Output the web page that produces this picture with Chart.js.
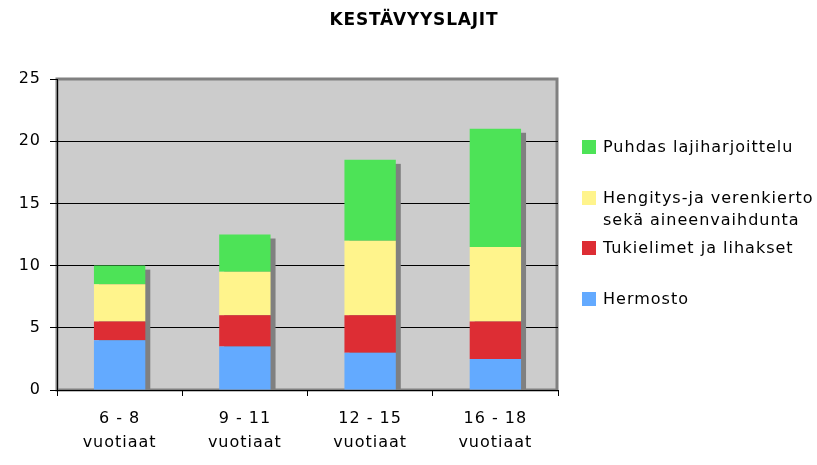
<!DOCTYPE html>
<html>
<head>
<meta charset="utf-8">
<script src="https://cdn.jsdelivr.net/npm/chart.js@4"></script>
<style>
  body { margin: 0; background: #fff; }
  #wrap { position: relative; width: 817px; height: 465px; }
  #legend { position: absolute; left: 0; top: 0; font-family: "DejaVu Sans"; font-size: 16px; letter-spacing: 1px; line-height: 22px; color: #000; }
  .item { position: absolute; left: 582px; }
  .box { position: absolute; left: 0; top: 4px; width: 14px; height: 14px; }
  .txt { position: absolute; left: 21px; top: 0; white-space: nowrap; }
</style>
</head>
<body>
<div id="wrap">
  <canvas id="chart" width="817" height="465"></canvas>
  <div id="legend"></div>
</div>
<script>
const chartTitle = "KESTÄVYYSLAJIT";
const categories = [["6 - 8", "vuotiaat"], ["9 - 11", "vuotiaat"], ["12 - 15", "vuotiaat"], ["16 - 18", "vuotiaat"]];
const seriesNames = [["Hermosto"], ["Tukielimet ja lihakset"], ["Hengitys-ja verenkierto", "sekä aineenvaihdunta"], ["Puhdas lajiharjoittelu"]];
const hermosto = [4, 3.5, 3, 2.5];
const tukielimet = [1.5, 2.5, 3, 3];
const hengitys = [3, 3.5, 6, 6];
const puhdas = [1.5, 3, 6.5, 9.5];
const seriesColors = ["#63aaff", "#dd2d34", "#fff48c", "#4de357"];
const yMax = 25;
const yStep = 5;

const seriesValues = [hermosto, tukielimet, hengitys, puhdas];

// grey plot area, bar shadows and the title (Excel style)
const excelLook = {
  id: "excelLook",
  beforeUpdate(chart) {
    chart.ctx.letterSpacing = "1px"; // wide text like the original
  },
  beforeDraw(chart) {
    const { ctx, chartArea: a } = chart;
    ctx.letterSpacing = "1px";
    ctx.save();
    ctx.fillStyle = "#cccccc";
    ctx.fillRect(a.left, a.top, a.right - a.left, a.bottom - a.top);
    ctx.strokeStyle = "#808080";
    ctx.lineWidth = 3;
    ctx.strokeRect(a.left, a.top, a.right - a.left - 1, a.bottom - a.top);
    ctx.restore();
  },
  beforeDatasetsDraw(chart) {
    const { ctx, chartArea: a } = chart;
    const top = chart.getDatasetMeta(seriesValues.length - 1);
    ctx.save();
    ctx.fillStyle = "#808080";
    top.data.forEach(bar => {
      const left = bar.x - bar.width / 2;
      ctx.fillRect(left + 5, bar.y + 4, bar.width, a.bottom - bar.y - 4);
    });
    ctx.restore();
  },
  afterDraw(chart) {
    const ctx = chart.ctx;
    ctx.save();
    ctx.font = 'bold 17px "DejaVu Sans"';
    ctx.letterSpacing = "0.8px";
    ctx.fillStyle = "#000";
    ctx.textAlign = "center";
    ctx.fillText(chartTitle, 414, 25);
    ctx.restore();
  }
};

const tickFont = { family: "DejaVu Sans", size: 16 };

new Chart(document.getElementById("chart"), {
  type: "bar",
  data: {
    labels: categories,
    datasets: seriesValues.map((vals, i) => ({
      label: seriesNames[i].join(" "),
      data: vals,
      backgroundColor: seriesColors[i],
      borderWidth: 0,
      barPercentage: 0.41,
      categoryPercentage: 1
    }))
  },
  options: {
    responsive: false,
    animation: false,
    layout: { padding: { top: 79, right: 259, left: 0, bottom: 0 } },
    plugins: {
      legend: { display: false },
      title: { display: false },
      tooltip: { enabled: false }
    },
    scales: {
      x: {
        stacked: true,
        afterFit(scale) { scale.height = 75; },
        grid: { drawOnChartArea: false, offset: true, tickLength: 6, tickColor: "#000" },
        border: { color: "#000", width: 1 },
        ticks: { color: "#000", font: { family: "DejaVu Sans", size: 16, lineHeight: 1.5 }, padding: 11, maxRotation: 0 }
      },
      y: {
        stacked: true,
        min: 0,
        max: yMax,
        afterFit(scale) { scale.width = 57; },
        grid: {
          color: c => (c.tick && c.tick.value === yMax ? "rgba(0,0,0,0)" : "#000"),
          tickColor: "#000",
          tickLength: 7
        },
        border: { color: "#000", width: 1 },
        ticks: { stepSize: yStep, color: "#000", font: tickFont, padding: 9 }
      }
    }
  },
  plugins: [excelLook]
});

// legend drawn in the Excel order: top series first
const legend = document.getElementById("legend");
seriesNames.slice().reverse().forEach((name, i) => {
  const color = seriesColors[seriesNames.length - 1 - i];
  const item = document.createElement("div");
  item.className = "item";
  item.style.top = (136 + i * 50.7) + "px";
  item.innerHTML = '<div class="box" style="background:' + color + '"></div><div class="txt">' + name.join("<br>") + "</div>";
  legend.appendChild(item);
});
</script>
</body>
</html>
